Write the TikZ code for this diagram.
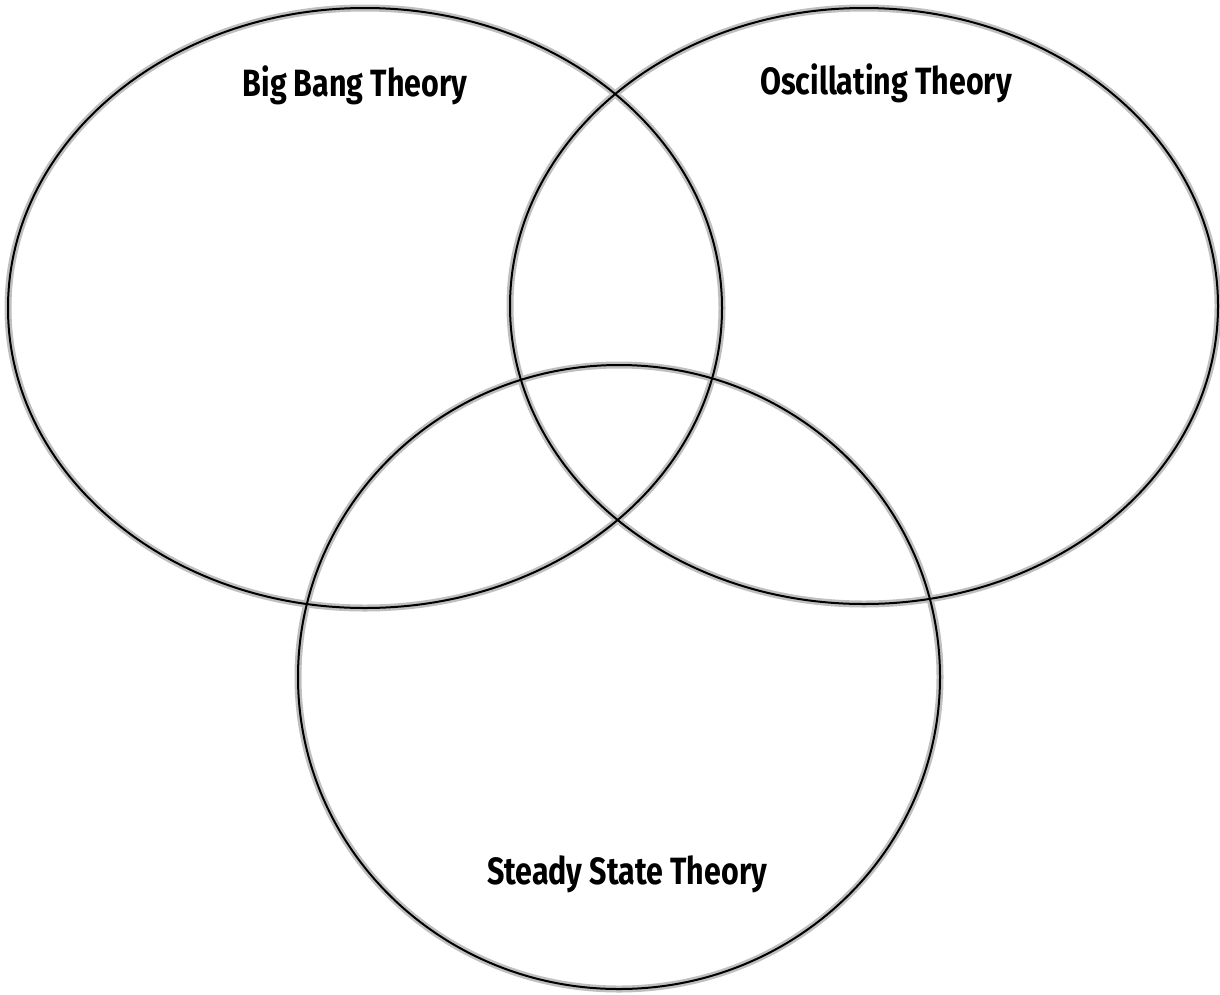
\documentclass[tikz,border=0pt]{standalone}
\usepackage{fontspec}
\newfontfamily\venntitlefont[FakeStretch=0.8]{Fira Sans}
\usetikzlibrary{positioning}

\begin{document}
\begin{tikzpicture}[x=1pt,y=-1pt,
			outline/.style={line width=2pt, black},
			halo/.style={line width=7pt, black!25},
			title/.style={
				inner sep=0pt,
				font=\venntitlefont\bfseries\fontsize{38}{40}\selectfont}]
			
			\useasboundingbox (0,0) rectangle (1220,994);
			
			% shadow under the rings
			\draw[halo] (365,308) ellipse [x radius=357, y radius=300];
			\draw[halo] (864,306) ellipse [x radius=354, y radius=298];
			\draw[halo] (619,677) ellipse [x radius=321, y radius=312];
			
			\draw[outline] (365,308) ellipse [x radius=357, y radius=300];
			\draw[outline] (864,306) ellipse [x radius=354, y radius=298];
			\draw[outline] (619,677) ellipse [x radius=321, y radius=312];
			
			\node[title] (bigbang) at (355,85){Big Bang Theory};
			
			\node[title] (oscillating) at (886,83){Oscillating Theory};
			
			\node[title] (steady) at (627,874){Steady State Theory};
			
		\end{tikzpicture}
\end{document}
